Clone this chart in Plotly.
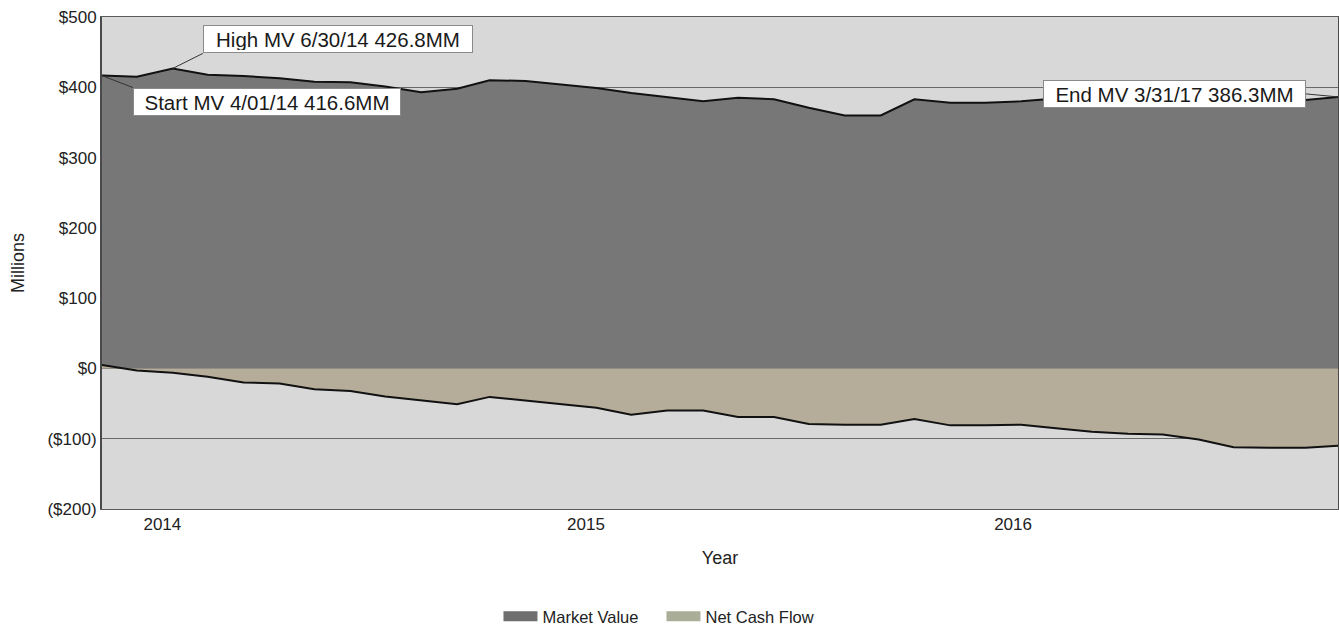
import plotly.graph_objects as go
import pandas as pd

# ---- data ----
months = pd.date_range("2014-04-01", periods=36, freq="MS")

market_value = [416.6, 415, 426.8, 418, 416, 413, 408, 407, 401, 393,
                398, 410, 409, 404, 399, 392, 386, 380, 385, 383,
                371, 360, 360, 383, 378, 378, 380, 384, 385, 386,
                385, 384, 383, 382, 382, 386.3]

net_cash_flow = [5, -3, -6, -12, -20, -21.5, -29.5, -32, -40, -45,
                 -51, -40.5, -46, -51, -56, -66, -60, -60, -69, -69,
                 -79, -80, -80, -72, -81, -81, -80, -85, -90, -93,
                 -94, -101, -112, -113, -113, -110]

year_tick_dates = ["2014-05-23", "2015-05-23", "2016-05-25"]
year_tick_labels = ["2014", "2015", "2016"]

y_tick_values = [500, 400, 300, 200, 100, 0, -100, -200]
y_tick_labels = ["$500", "$400", "$300", "$200", "$100", "$0", "($100)", "($200)"]

series_names = ["Market Value", "Net Cash Flow"]

FONT = "Arial, 'Liberation Sans', sans-serif"

fig = go.Figure()

fig.add_trace(go.Scatter(
    x=months, y=market_value, name=series_names[0], mode="lines",
    fill="tozeroy", fillcolor="#777777",
    line=dict(color="#111111", width=2), showlegend=False))

fig.add_trace(go.Scatter(
    x=months, y=net_cash_flow, name=series_names[1], mode="lines",
    fill="tozeroy", fillcolor="#b5ac99",
    line=dict(color="#111111", width=2), showlegend=False))

# legend swatches
fig.add_trace(go.Scatter(x=[None], y=[None], mode="lines", name=series_names[0],
                         line=dict(color="#6f6f6f", width=18)))
fig.add_trace(go.Scatter(x=[None], y=[None], mode="lines", name=series_names[1],
                         line=dict(color="#aaae98", width=18)))

box = dict(showarrow=True, arrowhead=0, arrowwidth=1, arrowcolor="#333333",
           bgcolor="white", bordercolor="#8a8a8a", borderwidth=1, borderpad=2,
           height=22, font=dict(family=FONT, size=20.5, color="#1a1a1a"))

fig.add_annotation(x=months[2], y=market_value[2], text="High MV 6/30/14 426.8MM",
                   ax=30, ay=-15, xanchor="left", yanchor="bottom", width=264, **box)
fig.add_annotation(x=months[0], y=market_value[0], text="Start MV 4/01/14 416.6MM",
                   ax=31, ay=12, xanchor="left", yanchor="top", width=262, **box)
fig.add_annotation(x=months[-1], y=market_value[-1], text="End MV 3/31/17 386.3MM",
                   ax=-32, ay=-3, xanchor="right", yanchor="middle", width=257, **box)

fig.update_layout(
    width=1339, height=629, autosize=False,
    margin=dict(l=102, r=1, t=17, b=120, autoexpand=False),
    paper_bgcolor="white", plot_bgcolor="#d8d8d8",
    font=dict(family=FONT, size=17, color="#222222"),
    legend=dict(orientation="h", xref="container", yref="container",
                x=0.494, xanchor="center", y=0.02, yanchor="middle",
                entrywidth=114, itemwidth=34,
                font=dict(size=16.5), bgcolor="rgba(0,0,0,0)"),
)

fig.update_xaxes(
    range=[months[0], months[-1]], automargin=False,
    tickmode="array", tickvals=year_tick_dates, ticktext=year_tick_labels,
    ticks="", showgrid=False, zeroline=False,
    showline=True, linecolor="#5a5a5a", linewidth=1, mirror=True,
    title=dict(text="Year", font=dict(size=18), standoff=17),
)

fig.update_yaxes(
    range=[-200, 500], automargin=False,
    tickmode="array", tickvals=y_tick_values, ticktext=y_tick_labels,
    ticks="", showgrid=True, gridcolor="#6a6a6a", gridwidth=1, zeroline=False,
    showline=True, linecolor="#4a4a4a", linewidth=2, mirror=True,
    title=dict(text="Millions", font=dict(size=18), standoff=18),
)

post = ("document.documentElement.style.margin='0';"
        "document.body.style.margin='0';"
        "document.body.style.padding='0';"
        "document.body.style.overflow='hidden';"
        "document.documentElement.style.overflow='hidden';"
        "var gd=document.getElementById('{plot_id}');"
        "gd.style.width='1339px';gd.style.height='629px';"
        "Plotly.relayout(gd,{width:1339,height:629});")

fig.write_html("out.html", post_script=post, config={"displayModeBar": False})
